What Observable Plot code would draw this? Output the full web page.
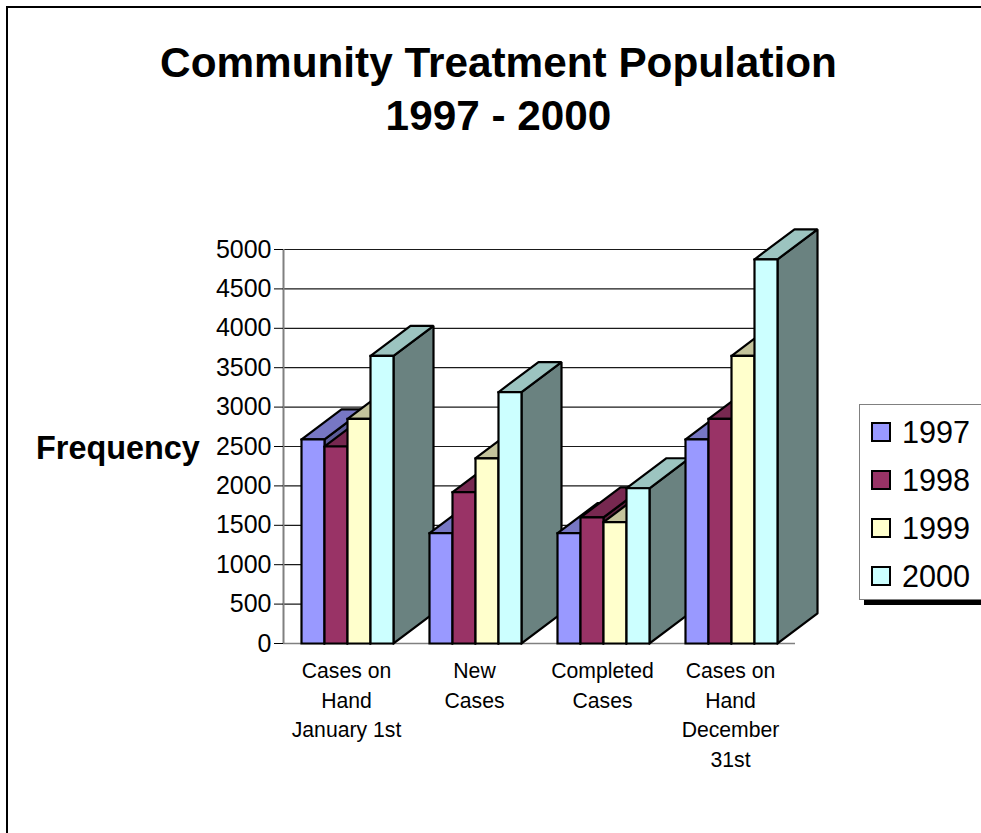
<!DOCTYPE html>
<html>
<head>
<meta charset="utf-8">
<script src="https://cdn.jsdelivr.net/npm/d3@7"></script>
<script src="https://cdn.jsdelivr.net/npm/@observablehq/plot@0.6"></script>
<style>
  html, body { margin: 0; padding: 0; background: #fff; overflow: hidden; width: 981px; height: 833px; }
  body { position: relative; font-family: "Liberation Sans", Arial, sans-serif; color: #000; }
  #chart { position: absolute; left: 0; top: 0; }
  #chart svg { display: block; overflow: visible; background: transparent; }
  #frame { position: absolute; left: 6px; top: 6px; width: 1100px; height: 1000px; border: 2px solid #000; }
  #title { position: absolute; left: 0; top: 36px; width: 997px; text-align: center; font-weight: bold; font-size: 42.3px; line-height: 53px; }
  #ylabel { position: absolute; left: 36px; top: 431px; font-weight: bold; font-size: 32.4px; line-height: 34px; }
  #legend { position: absolute; left: 859px; top: 404px; width: 200px; height: 194px; border: 1px solid #808080; background: #fff; }
  #legend-shadow { position: absolute; left: 864px; top: 599px; width: 200px; height: 6px; background: #000; }
  .entry { position: absolute; left: 11px; height: 34px; font-size: 30.6px; line-height: 34px; }
  .entry i { position: absolute; left: 0; top: 7px; width: 16px; height: 16px; border: 2px solid #000; }
  .entry span { position: absolute; left: 31px; }
</style>
</head>
<body>
<div id="frame"></div>
<div id="chart"></div>
<div id="title">Community Treatment Population<br>1997 - 2000</div>
<div id="ylabel">Frequency</div>
<div id="legend-shadow"></div>
<div id="legend"></div>
<script>
const categories = [
  "Cases on\nHand\nJanuary 1st",
  "New\nCases",
  "Completed\nCases",
  "Cases on\nHand\nDecember\n31st"
];
const years = ["1997", "1998", "1999", "2000"];
const cases1997 = [2590, 1400, 1400, 2590];
const cases1998 = [2500, 1920, 1600, 2850];
const cases1999 = [2850, 2350, 1540, 3650];
const cases2000 = [3650, 3190, 1970, 4875];
const seriesValues = [cases1997, cases1998, cases1999, cases2000];
const frontColors = ["#9999FF", "#993366", "#FFFFCC", "#CCFFFF"];
const topColors = ["#7777C4", "#772850", "#C4C49C", "#9CC4C0"];
const sideColors = ["#5C5C99", "#5C1F3D", "#99997A", "#6A8280"];
const yTicks = d3.range(0, 5001, 500);

// Each category spans one unit of x; the columns fill the middle of it.
const clusterInset = 18 / 128;
const columnWidth = 23 / 128;
// Receding depth of every column, in x units and in frequency units.
const depthX = 40 / 128;
const depthY = 381;

// One closed outline per visible face, listed from back to front so that
// columns further right paint over the ones beside them.
const faces = [];
function addFace(id, color, points) {
  for (const [x, y] of [...points, points[0]]) faces.push({id, color, x, y});
}
categories.forEach((_, c) => {
  seriesValues.forEach((values, s) => {
    const v = values[c];
    const x0 = c + clusterInset + s * columnWidth;
    const x1 = x0 + columnWidth;
    addFace(`${c}-${s}-side`, sideColors[s], [[x1, 0], [x1 + depthX, depthY], [x1 + depthX, v + depthY], [x1, v]]);
    addFace(`${c}-${s}-top`, topColors[s], [[x0, v], [x1, v], [x1 + depthX, v + depthY], [x0 + depthX, v + depthY]]);
    addFace(`${c}-${s}-front`, frontColors[s], [[x0, 0], [x1, 0], [x1, v], [x0, v]]);
  });
});

const plot = Plot.plot({
  width: 981,
  height: 833,
  marginLeft: 283,
  marginRight: 186,
  marginTop: 249,
  marginBottom: 190,
  style: {fontFamily: "'Liberation Sans', Arial, sans-serif", background: "transparent", color: "#000"},
  x: {domain: [0, 4], axis: null},
  y: {domain: [0, 5000], axis: null},
  color: {type: "identity"},
  marks: [
    Plot.ruleY(yTicks.filter((t) => t > 0), {x1: 0, x2: 4, stroke: "#1a1a1a", strokeWidth: 1.2}),
    Plot.ruleY([0], {x1: 0, x2: 4, stroke: "#808080", strokeWidth: 1.5}),
    Plot.ruleX([0], {stroke: "#808080", strokeWidth: 2}),
    Plot.axisY({
      ticks: yTicks,
      tickSize: 9,
      tickPadding: 3,
      fontSize: 25,
      label: null,
      stroke: "#000",
      tickFormat: (d) => String(d)
    }),
    Plot.line(faces, {
      x: "x",
      y: "y",
      z: "id",
      fill: "color",
      stroke: "#000",
      strokeWidth: 2.2,
      strokeLinejoin: "miter",
      strokeLinecap: "square"
    }),
    Plot.text(categories, {
      x: (_, i) => i + 0.5,
      y: 0,
      text: (d) => d,
      dx: -1,
      dy: 14,
      lineAnchor: "top",
      lineHeight: 1.39,
      fontSize: 21.2,
      fill: "#000"
    })
  ]
});
document.getElementById("chart").append(plot);

// Legend entries, one per year.
const legend = document.getElementById("legend");
years.forEach((year, i) => {
  const entry = document.createElement("div");
  entry.className = "entry";
  entry.style.top = `${10 + i * 48}px`;
  const swatch = document.createElement("i");
  swatch.style.background = frontColors[i];
  const label = document.createElement("span");
  label.textContent = year;
  entry.append(swatch, label);
  legend.append(entry);
});
</script>
</body>
</html>
